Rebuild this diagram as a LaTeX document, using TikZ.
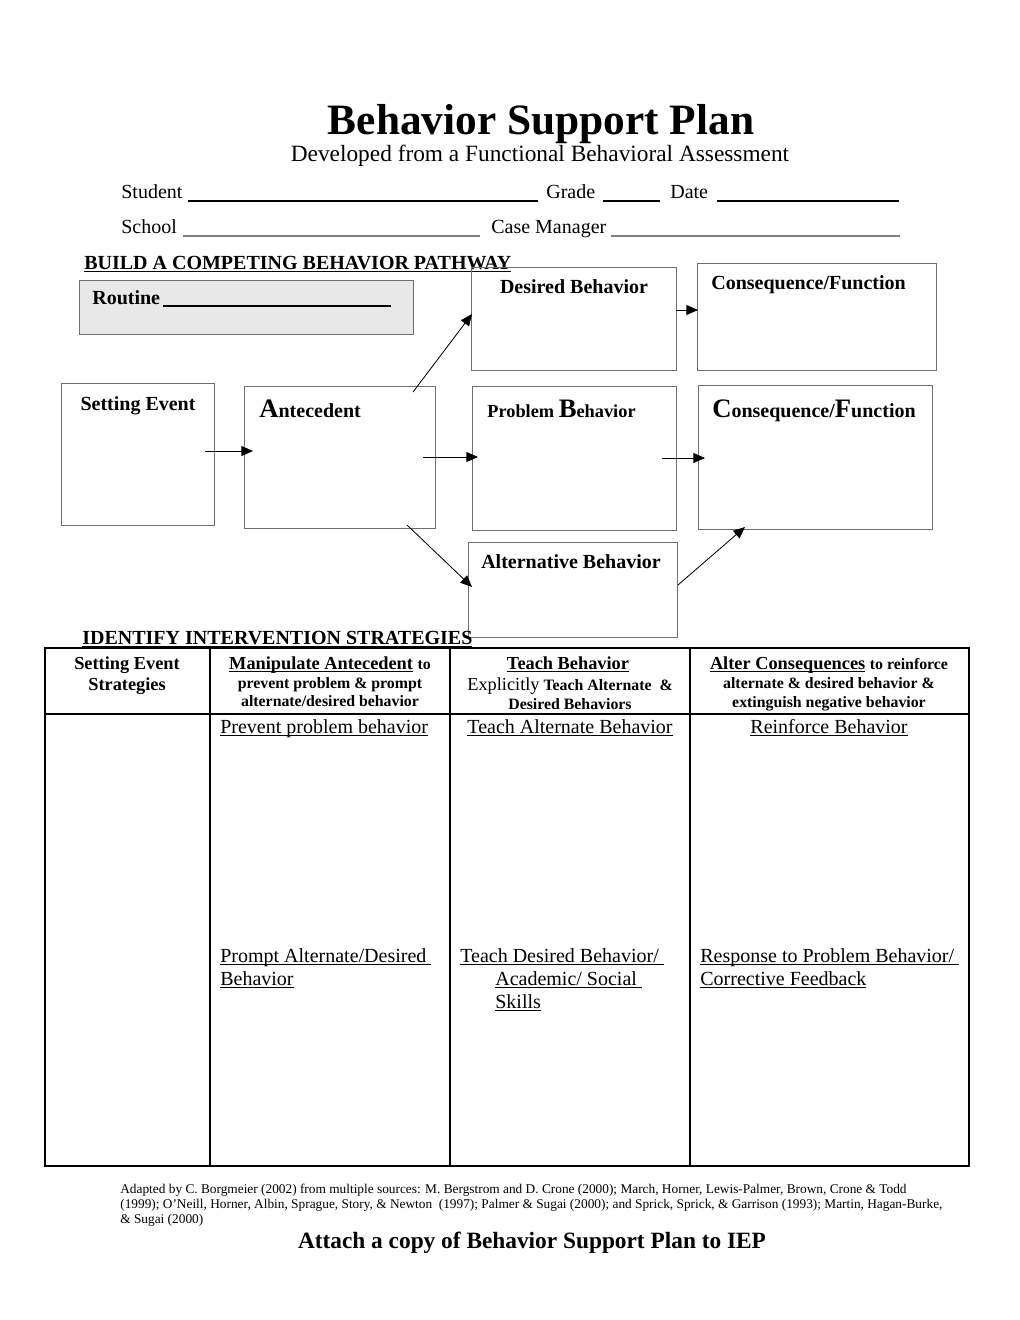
\documentclass[tikz,border=0pt]{standalone}
\usepackage{fontspec}
\setmainfont{Liberation Serif}
\usetikzlibrary{arrows.meta,fit}
\newcommand{\fs}[1]{\fontsize{#1}{#1}\selectfont}
\newcommand{\ulx}[1]{\underline{\smash{#1}}}
\definecolor{routinegray}{RGB}{232,232,232}
\definecolor{boxline}{RGB}{110,110,110}
\begin{document}
\begin{tikzpicture}[x=0.6pt,y=-0.6pt,
  box/.style={draw=boxline, line width=0.6pt, inner sep=0pt},
  arr/.style={-{Triangle[length=7pt,width=6pt]}, line width=0.5pt},
  lbl/.style={inner sep=0pt, anchor=base},
  lblw/.style={inner sep=0pt, anchor=base west},
  blank/.style={line width=0.8pt},
  grid/.style={line width=0.9pt}]
\fill[white] (0,0) rectangle (1020,1320);
\useasboundingbox (0,0) rectangle (1020,1320);

% Title block
\node[lbl, font=\bfseries\fs{26}] (title) at (541,134) {Behavior Support Plan};
\node[lbl, font=\fs{14}] (subtitle) at (540,161) {Developed from a Functional Behavioral Assessment};
\node[lblw, font=\fs{12}] (student) at (121,198) {Student};
\draw[blank] (188,201) -- (538,201);
\node[lblw, font=\fs{12}] (grade) at (546,198) {Grade};
\draw[blank] (603,201) -- (660,201);
\node[lblw, font=\fs{12}] (date) at (670,198) {Date};
\draw[blank] (717,201) -- (899,201);
\node[lblw, font=\fs{12}] (school) at (121,233) {School};
\draw[blank, gray] (183,236) -- (480,236);
\node[lblw, font=\fs{12}] (casemgr) at (491,233) {Case Manager};
\draw[blank, gray] (611,236) -- (900,236);

% Pathway
\node[lblw, font=\bfseries\fs{12}] (build) at (84,269) {\ulx{BUILD A COMPETING BEHAVIOR PATHWAY}};
\node[box, fill=routinegray, fit={(79,280) (413,334)}] (routine) {};
\node[lblw, font=\bfseries\fs{12}] (routinelbl) at (92,304) {Routine};
\draw[line width=0.7pt] (163,306) -- (391,306);

\node[box, fit={(471,267) (676,370)}] (desired) {};
\node[lbl, font=\bfseries\fs{12}] (desiredlbl) at (574,293) {Desired Behavior};
\node[box, fit={(697,263) (936,370)}] (constop) {};
\node[lblw, font=\bfseries\fs{12}] (constoplbl) at (711,289) {Consequence/Function};

\node[box, fit={(61,383) (214,525)}] (setting) {};
\node[lbl, font=\bfseries\fs{12}] (settinglbl) at (138,410) {Setting Event};
\node[box, fit={(244,386) (435,528)}] (antecedent) {};
\node[lblw, font=\bfseries\fs{12}] (antecedentlbl) at (259,417) {{\fs{16}A}ntecedent};
\node[box, fit={(472,386) (676,530)}] (problem) {};
\node[lblw, font=\bfseries\fs{11}] (problemlbl) at (487,417) {Problem {\fs{16}B}ehavior};
\node[box, fit={(698,385) (932,529)}] (consbot) {};
\node[lblw, font=\bfseries\fs{12}] (consbotlbl) at (712,417) {{\fs{16}C}onsequence/{\fs{16}F}unction};
\node[box, fit={(468,542) (677,637)}] (alternative) {};
\node[lbl, font=\bfseries\fs{12}] (alternativelbl) at (571,568) {Alternative Behavior};

% arrow end points
\coordinate (dOut) at (676,310);
\coordinate (cTopIn) at (698,310);
\coordinate (sOut) at (205,451);
\coordinate (aIn) at (253,451);
\coordinate (aOut) at (423,457);
\coordinate (pIn) at (478,457);
\coordinate (pOut) at (662,458);
\coordinate (cBotIn) at (705,458);
\coordinate (aUp) at (413,392);
\coordinate (dIn) at (472,314);
\coordinate (aDown) at (407,525);
\coordinate (altIn) at (472,587);
\coordinate (altOut) at (678,585);
\coordinate (cBotUp) at (745,527);

\draw[arr] (dOut) -- (cTopIn);
\draw[arr] (sOut) -- (aIn);
\draw[arr] (aOut) -- (pIn);
\draw[arr] (pOut) -- (cBotIn);
\draw[arr] (aUp) -- (dIn);
\draw[arr] (aDown) -- (altIn);
\draw[arr] (altOut) -- (cBotUp);

% Intervention strategies
\node[lblw, font=\bfseries\fs{12}] (identify) at (82,644) {\ulx{IDENTIFY INTERVENTION STRATEGIES}};
\node[fit={(45,648) (969,1166)}, draw, grid, inner sep=0pt] (table) {};
\draw[grid] (45,714) -- (969,714);
\draw[grid] (210,648) -- (210,1166);
\draw[grid] (450,648) -- (450,1166);
\draw[grid] (690,648) -- (690,1166);

\node[lbl, font=\bfseries\fs{11}] (h1a) at (127,669) {Setting Event};
\node[lbl, font=\bfseries\fs{11}] (h1b) at (127,690) {Strategies};
\node[lbl, font=\bfseries\fs{11}] (h2a) at (330,669) {\ulx{Manipulate Antecedent} {\fs{9.5}to}};
\node[lbl, font=\bfseries\fs{9.5}] (h2b) at (330,688) {prevent problem \& prompt};
\node[lbl, font=\bfseries\fs{9.5}] (h2c) at (330,706) {alternate/desired behavior};
\node[lbl, font=\bfseries\fs{11}] (h3a) at (568,669) {\ulx{Teach Behavior}};
\node[lbl, font=\bfseries\fs{9.5}] (h3b) at (570,690) {{\mdseries\fs{11}Explicitly} Teach Alternate \ \&};
\node[lbl, font=\bfseries\fs{9.5}] (h3c) at (570,709) {Desired Behaviors};
\node[lbl, font=\bfseries\fs{11}] (h4a) at (829,669) {\ulx{Alter Consequences} {\fs{9.5}to reinforce}};
\node[lbl, font=\bfseries\fs{9.5}] (h4b) at (829,688) {alternate \& desired behavior \&};
\node[lbl, font=\bfseries\fs{9.5}] (h4c) at (829,707) {extinguish negative behavior};

\node[lblw, font=\fs{12}] (b2a) at (220,733) {\ulx{Prevent problem behavior}};
\node[lbl, font=\fs{12}] (b3a) at (570,733) {\ulx{Teach Alternate Behavior}};
\node[lbl, font=\fs{12}] (b4a) at (829,733) {\ulx{Reinforce Behavior}};
\node[lblw, font=\fs{12}] (b2b) at (220,962) {\ulx{Prompt Alternate/Desired\ }};
\node[lblw, font=\fs{12}] (b2c) at (220,985) {\ulx{Behavior}};
\node[lblw, font=\fs{12}] (b3b) at (460,962) {\ulx{Teach Desired Behavior/\ }};
\node[lblw, font=\fs{12}] (b3c) at (495,985) {\ulx{Academic/ Social\ }};
\node[lblw, font=\fs{12}] (b3d) at (495,1008) {\ulx{Skills}};
\node[lblw, font=\fs{12}] (b4b) at (700,962) {\ulx{Response to Problem Behavior/\ }};
\node[lblw, font=\fs{12}] (b4c) at (700,985) {\ulx{Corrective Feedback}};

% Footer
\node[lblw, font=\fs{8}] (f1) at (120,1193) {Adapted by C. Borgmeier (2002) from multiple sources: M. Bergstrom and D. Crone (2000); March, Horner, Lewis-Palmer, Brown, Crone \& Todd};
\node[lblw, font=\fs{8}] (f2) at (120,1208) {(1999); O’Neill, Horner, Albin, Sprague, Story, \& Newton\ \ (1997); Palmer \& Sugai (2000); and Sprick, Sprick, \& Garrison (1993); Martin, Hagan-Burke,};
\node[lblw, font=\fs{8}] (f3) at (120,1223) {\& Sugai (2000)};
\node[lbl, font=\bfseries\fs{14}] (attach) at (532,1248) {Attach a copy of Behavior Support Plan to IEP};
\end{tikzpicture}
\end{document}
